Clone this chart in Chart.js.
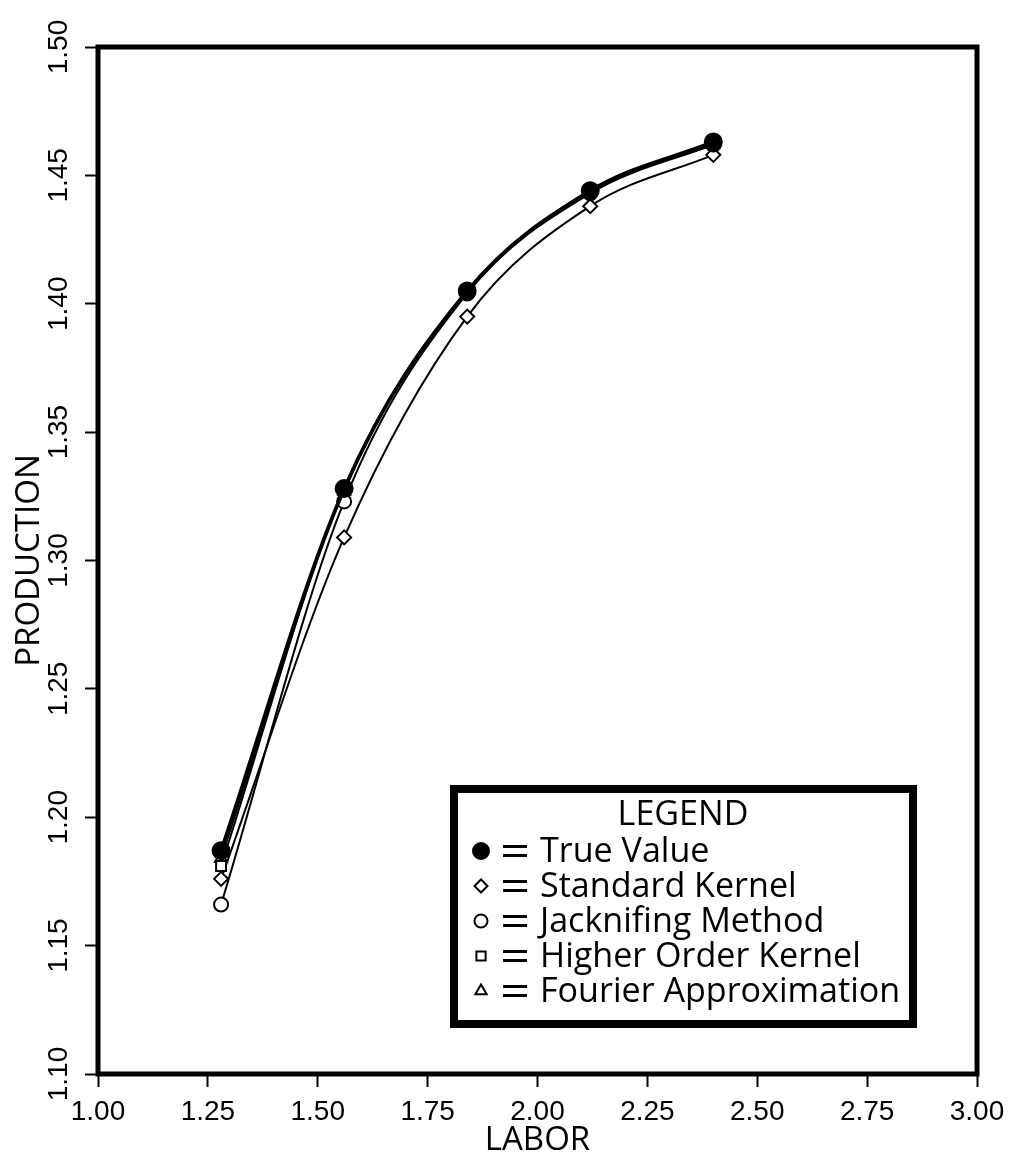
<!DOCTYPE html>
<html>
<head>
<meta charset="utf-8">
<script src="https://cdn.jsdelivr.net/npm/chart.js@4.4.0/dist/chart.umd.min.js"></script>
<style>
  html, body { margin: 0; padding: 0; background: #fff; }
  #wrap { width: 1019px; height: 1162px; }
</style>
</head>
<body>
<div id="wrap"><canvas id="prodChart" width="1019" height="1162"></canvas></div>
<script>
// values
const labor = [1.28, 1.56, 1.84, 2.12, 2.40];
const trueValue = [1.187, 1.328, 1.405, 1.444, 1.463];
const standardKernel = [1.176, 1.309, 1.395, 1.438, 1.458];
const jacknifing = [1.166, 1.323, 1.404, 1.443, 1.462];
const higherOrder = [1.181, 1.328, 1.405, 1.444, 1.462];
const fourier = [1.184, 1.327, 1.405, 1.444, 1.462];

const xTickValues = [1.00, 1.25, 1.50, 1.75, 2.00, 2.25, 2.50, 2.75, 3.00];
const yTickValues = [1.10, 1.15, 1.20, 1.25, 1.30, 1.35, 1.40, 1.45, 1.50];

const legendNames = ["True Value", "Standard Kernel", "Jacknifing Method", "Higher Order Kernel", "Fourier Approximation"];

const tickFont = { family: "'Liberation Sans', Arial, sans-serif", size: 28 };
const titleFont = { family: "'Open Sans', 'DejaVu Sans', sans-serif", size: 33 };

function toPoints(ys) {
  return labor.map((x, i) => ({ x: x, y: ys[i] }));
}

function series(label, ys, style, filled, radius, width) {
  return {
    label: label,
    data: toPoints(ys),
    borderColor: "#000",
    borderWidth: width,
    pointStyle: style,
    pointRadius: radius,
    pointBorderWidth: 2,
    pointBackgroundColor: filled ? "#000" : "#fff",
    pointBorderColor: "#000",
    cubicInterpolationMode: "monotone",
    fill: false,
  };
}

const markers = [
  { style: "circle", filled: true },
  { style: "rectRot", filled: false },
  { style: "circle", filled: false },
  { style: "rect", filled: false },
  { style: "triangle", filled: false },
];

// frame round the plot and the boxed legend
const frameAndLegend = {
  id: "frameAndLegend",
  afterDraw(chart) {
    const ctx = chart.ctx;
    const a = chart.chartArea;
    ctx.save();
    ctx.strokeStyle = "#000";
    ctx.lineWidth = 5;
    ctx.strokeRect(a.left, a.top, a.right - a.left, a.bottom - a.top);

    // legend box
    ctx.fillStyle = "#fff";
    ctx.fillRect(454, 789, 459, 235);
    ctx.lineWidth = 8;
    ctx.strokeRect(454, 789, 459, 235);

    let size = 30;
    ctx.font = size + "px 'Open Sans', 'DejaVu Sans', sans-serif";
    size = size * 360 / ctx.measureText(legendNames[4]).width;
    ctx.font = size.toFixed(1) + "px 'Open Sans', 'DejaVu Sans', sans-serif";
    ctx.fillStyle = "#000";
    ctx.textBaseline = "middle";
    ctx.textAlign = "center";
    ctx.fillText("LEGEND", 683, 815);

    const rows = [851, 886, 921, 956, 991];
    ctx.textAlign = "left";
    rows.forEach((y, i) => {
      const m = markers[i];
      ctx.fillStyle = m.filled ? "#000" : "#fff";
      ctx.strokeStyle = "#000";
      ctx.lineWidth = 2;
      Chart.helpers.drawPoint(ctx, { pointStyle: m.style, radius: m.filled ? 8 : 6.5, borderWidth: 2, rotation: 0 }, 481, y);
      ctx.fillStyle = "#000";
      ctx.fillRect(503, y - 6, 24, 3);
      ctx.fillRect(503, y + 3, 24, 3);
      ctx.fillText(legendNames[i], 540, y + 1);
    });
    ctx.restore();
  },
};

new Chart(document.getElementById("prodChart"), {
  type: "line",
  data: {
    // first dataset is drawn on top
    datasets: [
      series("True Value", trueValue, "circle", true, 8.5, 3.5),
      series("Higher Order Kernel", higherOrder, "rect", false, 7, 2),
      series("Fourier Approximation", fourier, "triangle", false, 7, 2),
      series("Jacknifing Method", jacknifing, "circle", false, 7, 2),
      series("Standard Kernel", standardKernel, "rectRot", false, 7, 2),
    ],
  },
  options: {
    responsive: false,
    animation: false,
    layout: { padding: { top: 47, right: 42, left: 0, bottom: 0 } },
    plugins: {
      legend: { display: false },
      tooltip: { enabled: false },
    },
    scales: {
      x: {
        type: "linear",
        min: 1.0,
        max: 3.0,
        afterFit: (s) => { s.height = 88; },
        afterBuildTicks: (s) => { s.ticks = xTickValues.map((v) => ({ value: v })); },
        border: { display: false },
        grid: { drawOnChartArea: false, drawTicks: true, tickLength: 13, tickWidth: 2, tickColor: "#000" },
        ticks: {
          color: "#000",
          font: tickFont,
          padding: 8,
          maxRotation: 0,
          callback: (v) => v.toFixed(2),
        },
        title: { display: true, text: "LABOR", color: "#000", font: titleFont, padding: { top: 0, bottom: 2 } },
      },
      y: {
        type: "linear",
        min: 1.10,
        max: 1.50,
        afterFit: (s) => { s.width = 98; },
        afterBuildTicks: (s) => { s.ticks = yTickValues.map((v) => ({ value: v })); },
        border: { display: false },
        grid: { drawOnChartArea: false, drawTicks: true, tickLength: 13, tickWidth: 2, tickColor: "#000" },
        ticks: {
          color: "#000",
          font: tickFont,
          padding: -2,
          minRotation: 90,
          maxRotation: 90,
          crossAlign: "center",
          callback: (v) => v.toFixed(2),
        },
        title: { display: true, text: "PRODUCTION", color: "#000", font: titleFont, padding: { top: 10, bottom: 0 } },
      },
    },
  },
  plugins: [frameAndLegend],
});
</script>
</body>
</html>
